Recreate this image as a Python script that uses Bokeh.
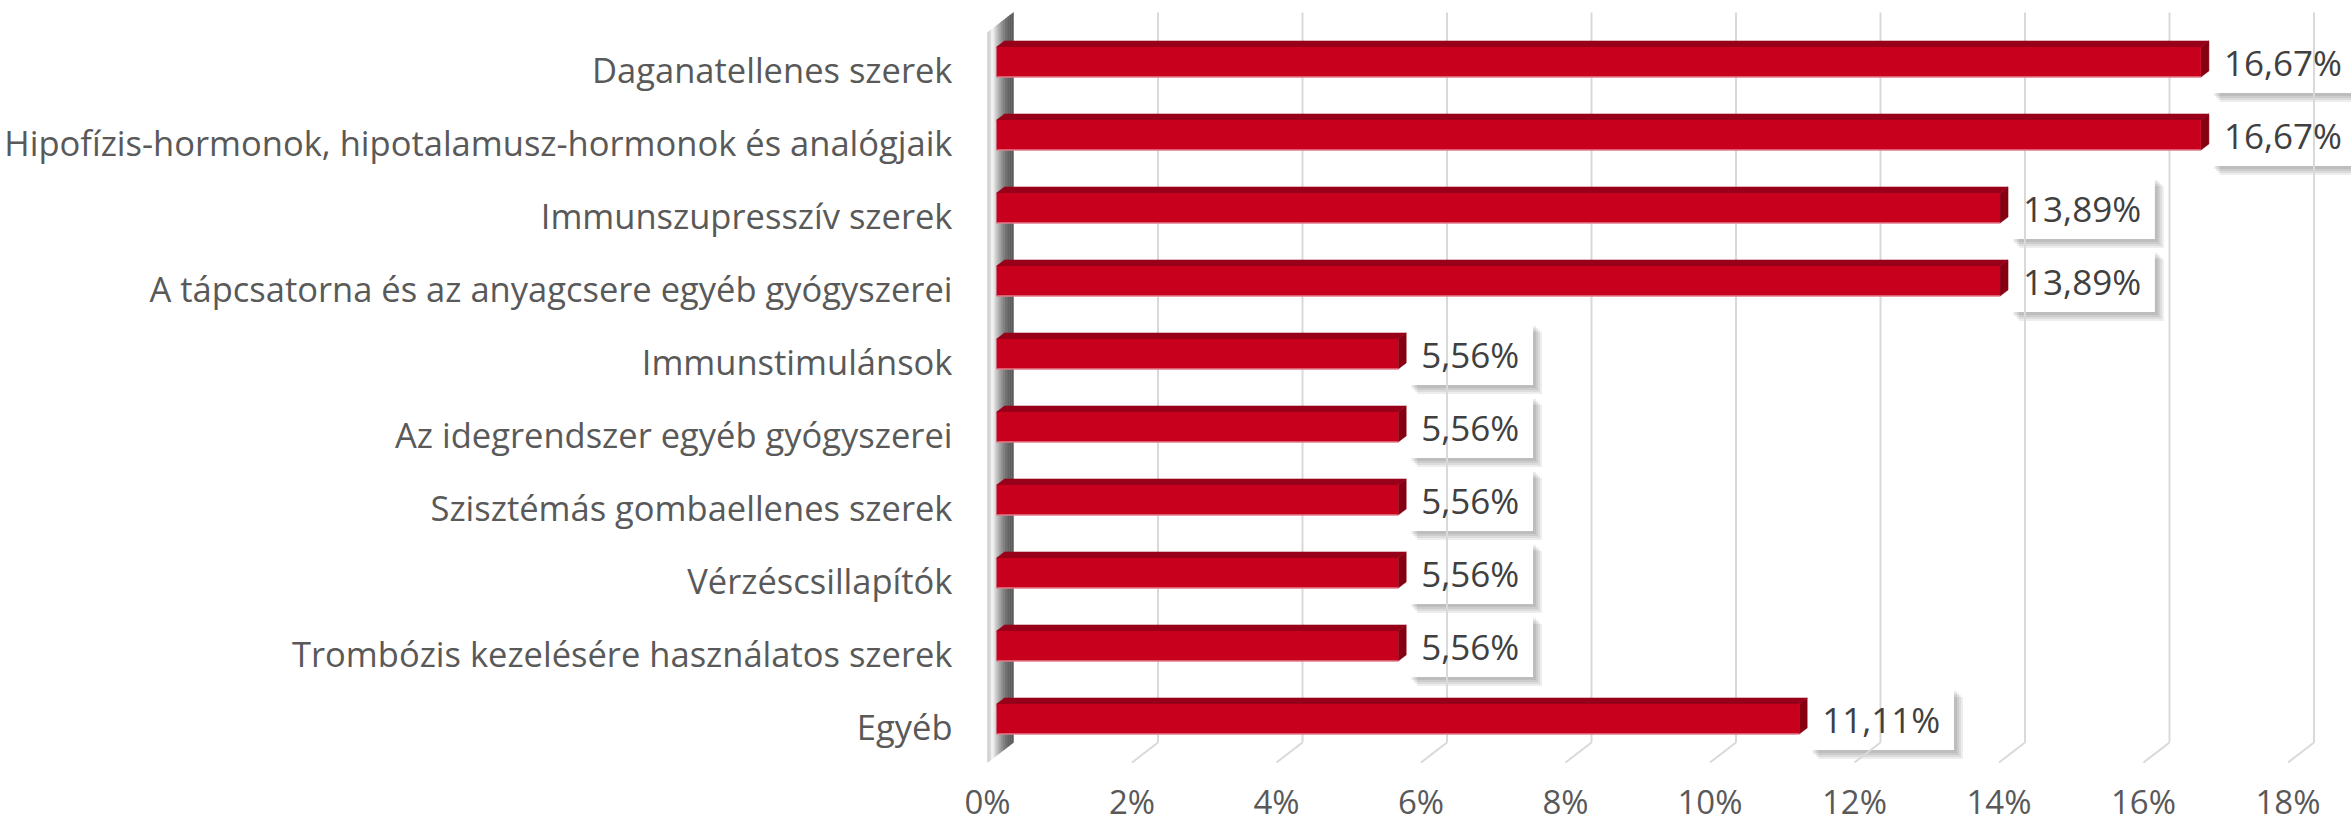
from bokeh.plotting import figure
from bokeh.models import Range1d, FixedTicker, PrintfTickFormatter, ColumnDataSource
from bokeh.embed import file_html
from bokeh.resources import INLINE
from bokeh.core.properties import value

# ---------------- data ----------------
categories = [
    "Daganatellenes szerek",
    "Hipofízis-hormonok, hipotalamusz-hormonok és analógjaik",
    "Immunszupresszív szerek",
    "A tápcsatorna és az anyagcsere egyéb gyógyszerei",
    "Immunstimulánsok",
    "Az idegrendszer egyéb gyógyszerei",
    "Szisztémás gombaellenes szerek",
    "Vérzéscsillapítók",
    "Trombózis kezelésére használatos szerek",
    "Egyéb",
]
values = [16.67, 16.67, 13.89, 13.89, 5.56, 5.56, 5.56, 5.56, 5.56, 11.11]
x_ticks = [0, 2, 4, 6, 8, 10, 12, 14, 16, 18]

# ---------------- geometry / style ----------------
W, H = 2351, 828
FRAME_L, FRAME_B = 978, 764
X0_PX, PXX = 987.0, 72.25      # front plane 0% pixel, px per 1%
Y0_PX, PXY = 32.0, 73.0        # front plane top pixel, px per row
DX, DY = 26 / PXX, -20 / PXY   # full depth offset (data units)
FB = 9 / 26                    # bar front depth fraction
BD = 8 / 26                    # bar depth fraction
BAR_HALF = 15 / PXY

FRONT_RED, TOP_RED, SIDE_RED = "#C8001E", "#98001A", "#860012"
TXT = "#595959"
VAL_TXT = "#404040"
GRID = "#D9D9D9"
FONT = "Open Sans"


def y_of_px(px):
    return (px - Y0_PX) / PXY - 0.5


p = figure(
    width=W, height=H,
    x_range=Range1d((FRAME_L - X0_PX) / PXX, (W - X0_PX) / PXX),
    y_range=Range1d(y_of_px(FRAME_B), y_of_px(0)),
    output_backend="svg", toolbar_location=None,
    min_border_left=FRAME_L, min_border_right=0, min_border_top=0,
    min_border_bottom=H - FRAME_B,
)
p.outline_line_color = None
p.grid.visible = False
p.background_fill_color = "white"
p.border_fill_color = "white"

# ---------------- side wall ----------------
wall_cols = ["#D0D0D0", "#D6D6D6", "#F2F2F2", "#EAEAEA", "#D2D2D2", "#BDBDBD",
             "#A8A8A8", "#969696", "#858585", "#777777", "#6C6C6C", "#636363",
             "#5E5E5E", "#5C5C5C"]
n = len(wall_cols)
wx, wy = [], []
top_f, bot_f = -0.5, 9.5
for k in range(n):
    ta, tb = k / n, (k + 1) / n
    wx.append([ta * DX, tb * DX, tb * DX, ta * DX])
    wy.append([top_f + ta * DY, top_f + tb * DY, bot_f + tb * DY, bot_f + ta * DY])
p.patches(wx, wy, fill_color=wall_cols, line_color=wall_cols, line_width=0.5)

# ---------------- value label boxes (shadow + white) ----------------
DIG, COMMA, PCT = 20.0, 9.1, 28.7
labels = [f"{v:.2f}".replace(".", ",") + "%" for v in values]
box_l, box_r, box_t, box_b, txt_x, txt_y = [], [], [], [], [], []
for i, (v, s) in enumerate(zip(values, labels)):
    tw = sum(DIG for c in s if c.isdigit()) + COMMA + PCT
    right_end = v + FB * DX + BD * DX
    left = right_end + 2 / PXX
    cy = i + FB * DY
    box_l.append(left)
    box_r.append(left + (tw + 27) / PXX)
    box_t.append(cy - 31 / PXY)
    box_b.append(cy + 31 / PXY)
    txt_x.append(left + 13 / PXX)
    txt_y.append(cy)

for d in [3, 5, 7, 9]:
    p.quad(left=[l + d / PXX for l in box_l], right=[r + d / PXX for r in box_r],
           top=[t + d / PXY for t in box_t], bottom=[b + d / PXY for b in box_b],
           fill_color="black", fill_alpha=0.07, line_color=None)
p.quad(left=box_l, right=box_r, top=box_t, bottom=box_b,
       fill_color="white", line_color=None)

# ---------------- gridlines (back wall + floor) ----------------
gx = [[g + DX, g + DX] for g in x_ticks if g > 0]
gy = [[top_f + DY, bot_f + DY] for g in x_ticks if g > 0]
p.multi_line(gx, gy, line_color=GRID, line_width=2)
fx = [[g + DX, g] for g in x_ticks if g > 0]
fy = [[bot_f + DY, bot_f] for g in x_ticks if g > 0]
p.multi_line(fx, fy, line_color=GRID, line_width=2)

# ---------------- bars ----------------
bdx, bdy = BD * DX, BD * DY
fl, fr, ft, fbm = [], [], [], []
topx, topy, sidex, sidey = [], [], [], []
for i, v in enumerate(values):
    L = FB * DX
    R = v + FB * DX
    cy = i + FB * DY
    T, B = cy - BAR_HALF, cy + BAR_HALF
    fl.append(L); fr.append(R); ft.append(T); fbm.append(B)
    topx.append([L, R, R + bdx, L + bdx])
    topy.append([T, T, T + bdy, T + bdy])
    sidex.append([R, R, R + bdx, R + bdx])
    sidey.append([T, B, B + bdy, T + bdy])

p.patches(topx, topy, fill_color=TOP_RED, line_color=TOP_RED, line_width=0.5)
p.patches(sidex, sidey, fill_color=SIDE_RED, line_color=SIDE_RED, line_width=0.5)
p.quad(left=fl, right=fr, top=ft, bottom=fbm, fill_color=FRONT_RED, line_color=None)
p.segment(x0=fl, x1=fr, y0=fbm, y1=fbm, line_color="#E27C8C", line_width=1.5)

# ---------------- value labels ----------------
src = ColumnDataSource(dict(x=txt_x, y=txt_y, t=labels))
p.text(x="x", y="y", text="t", source=src, text_font=value(FONT),
       text_font_size="35px", text_color=VAL_TXT, text_align="left",
       text_baseline="middle")

# ---------------- axes ----------------
xa = p.xaxis[0]
xa.ticker = FixedTicker(ticks=x_ticks)
xa.formatter = PrintfTickFormatter(format="%d%%")
xa.axis_line_color = None
xa.major_tick_line_color = None
xa.minor_tick_line_color = None
xa.major_tick_out = 0
xa.major_tick_in = 0
xa.major_label_text_font = FONT
xa.major_label_text_font_size = "33px"
xa.major_label_text_color = TXT
xa.major_label_standoff = 14

ya = p.yaxis[0]
ya.ticker = FixedTicker(ticks=list(range(len(categories))))
ya.major_label_overrides = {i: c for i, c in enumerate(categories)}
ya.axis_line_color = None
ya.major_tick_line_color = None
ya.minor_tick_line_color = None
ya.major_tick_out = 0
ya.major_tick_in = 0
ya.major_label_text_font = FONT
ya.major_label_text_font_size = "34.5px"
ya.major_label_text_color = TXT
ya.major_label_standoff = 26

open("out.html", "w").write(file_html(p, INLINE))
